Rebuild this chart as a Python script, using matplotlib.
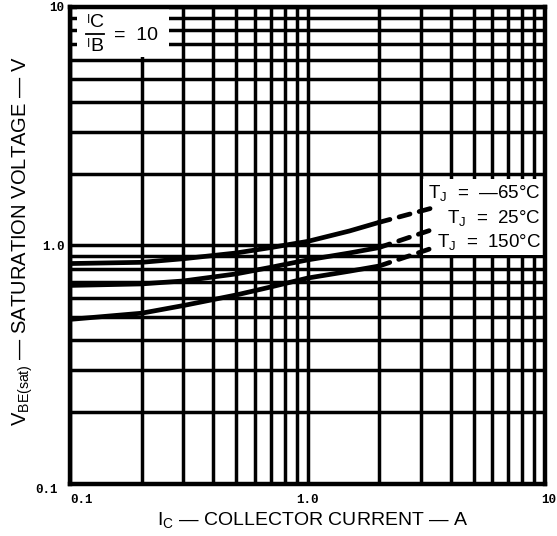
import numpy as np
import matplotlib.pyplot as plt
from matplotlib.patches import Rectangle
from matplotlib.lines import Line2D
from matplotlib.ticker import LogLocator, NullFormatter
import matplotlib.transforms as mtransforms

plt.rcParams['font.family'] = ['Liberation Sans', 'DejaVu Sans']
plt.rcParams['mathtext.fontset'] = 'custom'
plt.rcParams['mathtext.rm'] = 'Liberation Sans'
plt.rcParams['mathtext.it'] = 'Liberation Sans'

# collector current (A) - solid part of each curve
ic = [0.1, 0.2, 0.3, 0.5, 0.7, 1.0, 1.5, 2.0]
vbe_m65 = [0.84, 0.85, 0.88, 0.93, 0.98, 1.04, 1.15, 1.25]
vbe_25 = [0.68, 0.69, 0.71, 0.76, 0.81, 0.87, 0.93, 0.98]
vbe_150 = [0.49, 0.52, 0.56, 0.62, 0.67, 0.73, 0.78, 0.82]

# dashed extrapolation
ic_ext = [2.0, 3.3]
vbe_m65_ext = [1.25, 1.43]
vbe_25_ext = [0.98, 1.16]
vbe_150_ext = [0.82, 0.97]

curve_labels = ['T$_\\mathregular{J}$  =  \u201465\u00b0C',
                'T$_\\mathregular{J}$  =  25\u00b0C',
                'T$_\\mathregular{J}$  =  150\u00b0C']
label_y = [1.66, 1.30, 1.03]

xticks = [0.1, 1.0, 10]
xtick_labels = ['0.1', '1.0', '10']
yticks = [0.1, 1.0, 10]
ytick_labels = ['0.1', '1.0', '10']

fig = plt.figure(figsize=(5.57, 5.36), dpi=100)
ax = fig.add_axes([0.1257, 0.097, 0.8528, 0.890])
ax.set_xscale('log')
ax.set_yscale('log')
ax.set_xlim(0.1, 10)
ax.set_ylim(0.1, 10)

for a in (ax.xaxis, ax.yaxis):
    a.set_minor_locator(LogLocator(base=10, subs=np.arange(2, 10), numticks=20))
    a.set_minor_formatter(NullFormatter())

ax.grid(which='both', color='black', lw=2.5, zorder=1)
ax.set_axisbelow(True)
for s in ax.spines.values():
    s.set_linewidth(3.2)
    s.set_zorder(6)

ax.set_xticks(xticks)
ax.set_xticklabels(xtick_labels)
ax.set_yticks(yticks)
ax.set_yticklabels(ytick_labels)
ax.tick_params(which='both', length=0, labelsize=9)
ax.tick_params(axis='y', pad=4)
ax.tick_params(axis='x', pad=7)
for lab in ax.get_xticklabels() + ax.get_yticklabels():
    lab.set_fontfamily('Liberation Mono')
    lab.set_fontweight('bold')

xl = ax.get_xticklabels()
xl[0].set_ha('left')
xl[2].set_transform(xl[2].get_transform() + mtransforms.ScaledTranslation(4 / 100, 0, fig.dpi_scale_trans))
yl = ax.get_yticklabels()
yl[0].set_va('top')
yl[0].set_transform(yl[0].get_transform() + mtransforms.ScaledTranslation(-7 / 100, 0, fig.dpi_scale_trans))

# white label boxes covering the grid
ax.add_patch(Rectangle((0.107, 6.15), 0.26 - 0.107, 10 - 6.15, facecolor='white',
                       edgecolor='none', zorder=2))
ax.add_patch(Rectangle((3.05, 0.91), 10 - 3.05, 1.9 - 0.91, facecolor='white',
                       edgecolor='none', zorder=2))

for v, ve in [(vbe_m65, vbe_m65_ext), (vbe_25, vbe_25_ext), (vbe_150, vbe_150_ext)]:
    ax.plot(ic, v, color='black', lw=3.4, solid_capstyle='butt', zorder=4)
    ax.plot(ic_ext, ve, color='black', lw=3.4, dashes=(2.4, 2.0),
            dash_capstyle='round', zorder=4)

for lab, y in zip(curve_labels, label_y):
    ax.text(9.6, y, lab, ha='right', va='center', fontsize=13.5, zorder=5)

# IC / IB = 10 block
ta = ax.transAxes
ax.text(0.035, 0.985, 'I', transform=ta, ha='left', va='top', fontsize=8.5, zorder=5)
ax.text(0.043, 0.985, 'C', transform=ta, ha='left', va='top', fontsize=14, zorder=5)
ax.add_line(Line2D([0.033, 0.072], [0.944, 0.944], transform=ta, color='black',
                   lw=1.3, zorder=5))
ax.text(0.035, 0.934, 'I', transform=ta, ha='left', va='top', fontsize=8.5, zorder=5)
ax.text(0.043, 0.934, 'B', transform=ta, ha='left', va='top', fontsize=14, zorder=5)
ax.text(0.093, 0.940, '=  10', transform=ta, ha='left', va='center', fontsize=14, zorder=5)

fig.text(0.04, 0.55, 'V$_\\mathregular{BE(sat)}$ \u2014 SATURATION VOLTAGE \u2014 V',
         rotation=90, ha='center', va='center', fontsize=14.5)
fig.text(0.562, 0.03, 'I$_\\mathregular{C}$ \u2014 COLLECTOR CURRENT \u2014 A',
         ha='center', va='center', fontsize=14)

fig.savefig('out.png', dpi=100)
